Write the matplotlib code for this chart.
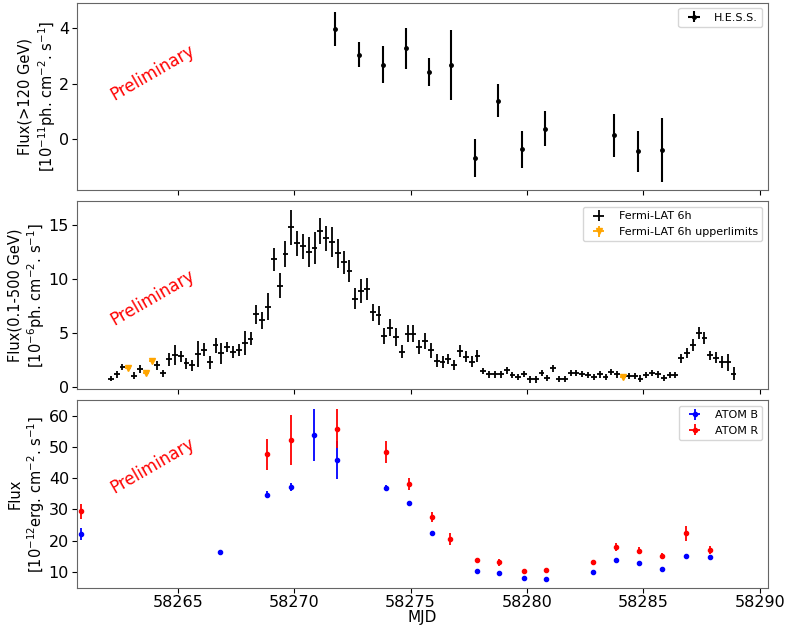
import matplotlib.pyplot as plt
import numpy as np

# H.E.S.S. nightly fluxes (>120 GeV), 1e-11 ph cm-2 s-1
hess_mjd = [58271.77, 58272.79, 58273.80, 58274.80, 58275.80, 58276.75, 58277.76,
            58278.75, 58279.77, 58280.76, 58283.75, 58284.77, 58285.81]
hess_flux = [3.96, 3.04, 2.68, 3.27, 2.42, 2.69, -0.68, 1.39, -0.37, 0.37, 0.14, -0.44, -0.38]
hess_err = [0.61, 0.45, 0.67, 0.73, 0.49, 1.26, 0.70, 0.60, 0.68, 0.63, 0.77, 0.73, 1.15]

# Fermi-LAT 6h bins (0.1-500 GeV), 1e-6 ph cm-2 s-1
fermi_start = 58262.125
fermi_bin = 0.25
fermi_flux = [0.78, 1.16, 1.87, 1.77, 1.06, 1.68, 1.31, 2.40, 2.00, 1.25,
              2.55, 2.96, 2.83, 2.18, 2.02, 3.02, 3.45, 2.28, 3.89, 3.12,
              3.70, 3.24, 3.45, 4.10, 4.48, 6.75, 6.19, 7.43, 11.85, 9.39,
              12.35, 14.83, 13.34, 13.06, 12.50, 12.91, 14.52, 13.81, 13.50, 12.41,
              11.57, 10.79, 8.21, 8.93, 9.11, 6.94, 6.66, 4.73, 5.50, 4.64,
              3.26, 4.94, 4.94, 3.73, 4.26, 3.40, 2.45, 2.35, 2.60, 2.00,
              3.30, 2.80, 2.35, 2.90, 1.46, 1.16, 1.16, 1.16, 1.53, 1.09,
              0.93, 1.21, 0.69, 0.69, 1.31, 0.84, 1.72, 0.75, 0.75, 1.31,
              1.31, 1.21, 1.09, 0.90, 1.16, 0.93, 1.40, 1.16, 0.95, 1.00,
              1.00, 0.78, 1.09, 1.31, 1.16, 0.84, 1.09, 1.09, 2.65, 3.17,
              3.89, 4.98, 4.51, 2.93, 2.71, 2.30, 2.30, 1.21]
fermi_err = [0.25, 0.30, 0.30, 0.00, 0.35, 0.35, 0.00, 0.00, 0.40, 0.35,
             0.62, 0.93, 0.55, 0.55, 0.50, 1.20, 0.60, 0.62, 0.70, 1.00,
             0.47, 0.55, 0.55, 1.10, 0.60, 0.87, 0.80, 1.25, 1.10, 1.15,
             1.25, 1.60, 1.15, 1.15, 1.40, 1.45, 1.20, 1.15, 1.40, 1.35,
             1.10, 1.00, 1.00, 1.10, 1.00, 0.80, 0.90, 0.78, 0.80, 0.80,
             0.60, 0.80, 0.80, 0.67, 0.78, 0.70, 0.57, 0.55, 0.50, 0.47,
             0.55, 0.53, 0.48, 0.55, 0.30, 0.30, 0.30, 0.30, 0.30, 0.30,
             0.30, 0.30, 0.30, 0.30, 0.30, 0.30, 0.35, 0.30, 0.30, 0.30,
             0.30, 0.30, 0.30, 0.30, 0.30, 0.30, 0.30, 0.30, 0.00, 0.30,
             0.30, 0.30, 0.30, 0.30, 0.30, 0.30, 0.30, 0.30, 0.45, 0.47,
             0.55, 0.55, 0.55, 0.45, 0.50, 0.55, 0.80, 0.60]
fermi_ul_idx = [3, 6, 7, 88]

# ATOM optical fluxes, 1e-12 erg cm-2 s-1
atom_b_mjd = [58260.83, 58266.82, 58268.82, 58269.86, 58270.84, 58271.84, 58273.94,
              58274.94, 58275.94, 58277.84, 58278.79, 58279.87, 58280.83,
              58282.82, 58283.82, 58284.82, 58285.81, 58286.81, 58287.85]
atom_b_flux = [22.2, 16.3, 34.7, 37.2, 53.7, 45.8, 36.8, 32.1, 22.4, 10.4, 9.5, 7.9, 7.8,
               9.8, 13.7, 12.7, 11.0, 15.2, 14.6]
atom_b_err = [1.9, 0.8, 1.2, 1.3, 8.3, 6.0, 1.0, 0.4, 0.4, 0.3, 0.3, 0.3, 0.3,
              0.3, 0.3, 0.3, 0.3, 0.4, 0.4]
atom_r_mjd = [58260.83, 58268.82, 58269.86, 58271.84, 58273.94, 58274.94, 58275.94,
              58276.71, 58277.84, 58278.79, 58279.87, 58280.83, 58282.82,
              58283.82, 58284.82, 58285.81, 58286.81, 58287.85]
atom_r_flux = [29.3, 47.6, 52.3, 55.8, 48.3, 38.1, 27.5, 20.5, 13.8, 13.0, 10.2, 10.6,
               13.2, 18.0, 16.8, 15.1, 22.3, 16.9]
atom_r_err = [2.4, 5.0, 8.0, 6.2, 3.5, 1.9, 1.5, 2.0, 0.6, 1.0, 0.6, 0.6,
              0.7, 1.2, 1.2, 1.0, 2.5, 1.2]

fermi_mjd = fermi_start + fermi_bin * np.arange(len(fermi_flux))
fermi_flux = np.array(fermi_flux)
fermi_err = np.array(fermi_err)
is_ul = np.zeros(len(fermi_flux), dtype=bool)
is_ul[fermi_ul_idx] = True

fig, axes = plt.subplots(3, 1, figsize=(7.86, 6.31), dpi=100, sharex=True)
fig.subplots_adjust(left=0.0976, right=0.977, top=0.9957, bottom=0.0686, hspace=0.06)
ax1, ax2, ax3 = axes

ax1.errorbar(hess_mjd, hess_flux, yerr=hess_err, xerr=0.01, fmt='o', color='k',
             markersize=2.5, elinewidth=1.5, label='H.E.S.S.')
ax1.set_ylim(-1.84, 4.92)
ax1.set_ylabel('Flux(>120 GeV)\n[$10^{-11}$ph. cm$^{-2}$. s$^{-1}$]', fontsize=10.5, labelpad=1)
ax1.legend(loc='upper right', fontsize=8)

ax2.errorbar(fermi_mjd[~is_ul], fermi_flux[~is_ul], yerr=fermi_err[~is_ul],
             xerr=fermi_bin / 2, fmt='none', ecolor='k', elinewidth=1.3,
             label='Fermi-LAT 6h')
ax2.errorbar(fermi_mjd[is_ul], fermi_flux[is_ul], yerr=0.05, xerr=fermi_bin / 2,
             fmt='v', color='orange', markersize=5, elinewidth=1.3,
             label='Fermi-LAT 6h upperlimits')
ax2.set_ylim(-0.19, 17.23)
ax2.set_yticks([0, 5, 10, 15])
ax2.set_ylabel('Flux(0.1-500 GeV)\n[$10^{-6}$ph. cm$^{-2}$. s$^{-1}$]', fontsize=10.5, labelpad=1)
ax2.legend(loc='upper right', fontsize=8)

ax3.errorbar(atom_b_mjd, atom_b_flux, yerr=atom_b_err, xerr=0.02, fmt='o', color='b',
             markersize=3, elinewidth=1.3, label='ATOM B')
ax3.errorbar(atom_r_mjd, atom_r_flux, yerr=atom_r_err, xerr=0.02, fmt='o', color='r',
             markersize=3, elinewidth=1.3, label='ATOM R')
ax3.set_ylim(4.9, 64.9)
ax3.set_yticks([10, 20, 30, 40, 50, 60])
ax3.set_ylabel('Flux\n[$10^{-12}$erg. cm$^{-2}$. s$^{-1}$]', fontsize=10.5, labelpad=1)
ax3.set_xlabel('MJD', fontsize=11, labelpad=0)
ax3.legend(loc='upper right', fontsize=8)

ax3.set_xlim(58260.66, 58290.35)
ax3.set_xticks([58265, 58270, 58275, 58280, 58285, 58290])
ax3.ticklabel_format(axis='x', useOffset=False, style='plain')

for ax, ypos in zip(axes, [0.627, 0.486, 0.65]):
    ax.tick_params(labelsize=11.5, pad=2)
    ax.text(0.11, ypos, 'Preliminary', color='red', fontsize=12, rotation=30,
            ha='center', va='center', transform=ax.transAxes)
    for spine in ax.spines.values():
        spine.set_color('#666666')

plt.savefig('out.png')
